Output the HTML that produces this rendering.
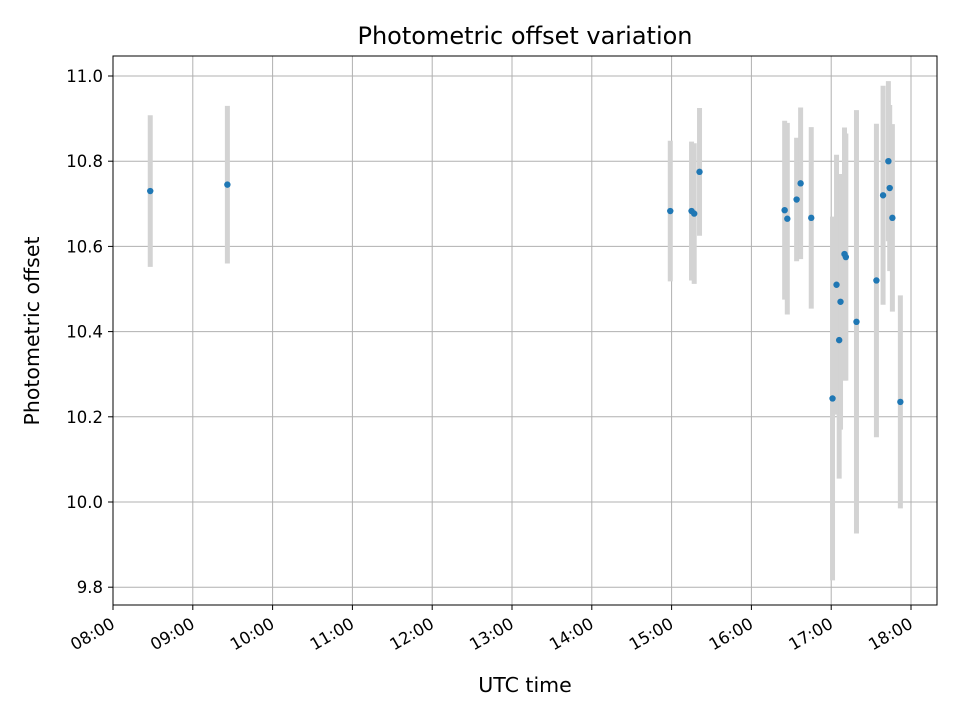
<!DOCTYPE html>
<html><head><meta charset="utf-8"><style>body{margin:0;background:#fff}svg{display:block;font-family:"DejaVu Sans","Liberation Sans",sans-serif}</style></head>
<body>
<svg id="chart" width="960" height="720" xmlns="http://www.w3.org/2000/svg"></svg>
<script>
const times=["08:28","09:26","14:59","15:15","15:17","15:21","16:25","16:27","16:34","16:37","16:45","17:01","17:04","17:06","17:07","17:10","17:11","17:19","17:34","17:39","17:43","17:44","17:46","17:52"];
const offsets=[10.73,10.745,10.683,10.683,10.677,10.775,10.685,10.665,10.71,10.748,10.667,10.243,10.51,10.38,10.47,10.582,10.575,10.423,10.52,10.72,10.80,10.737,10.667,10.235];
const errors=[0.178,0.185,0.165,0.163,0.165,0.15,0.21,0.225,0.145,0.178,0.213,0.427,0.305,0.325,0.3,0.297,0.29,0.497,0.368,0.257,0.188,0.195,0.22,0.25];
const xTicks=["08:00","09:00","10:00","11:00","12:00","13:00","14:00","15:00","16:00","17:00","18:00"];
const yTicks=[9.8,10.0,10.2,10.4,10.6,10.8,11.0];
const NS="http://www.w3.org/2000/svg",svg=document.getElementById('chart');
const L=113,R=937,T=56,B=605;
const toH=s=>{const p=s.split(':');return +p[0]+p[1]/60;};
const xs=h=>113+(h-8)*79.8;
const ys=v=>76+(11-v)*426;
function mk(tag,at,txt){const e=document.createElementNS(NS,tag);for(const k in at)e.setAttribute(k,at[k]);if(txt!=null)e.textContent=txt;svg.appendChild(e);return e;}
let g;
xTicks.forEach(t=>{const x=xs(toH(t));
g=mk('line',{x1:x,x2:x,y1:T,y2:B,stroke:'#b0b0b0','stroke-width':1});

g=mk('line',{x1:x,x2:x,y1:B,y2:B+5,stroke:'#000'});

g=mk('text',{x:x+3,y:B+22,'font-size':16.5,'text-anchor':'end',transform:`rotate(-30 ${x+3} ${B+22})`},t);
});
yTicks.forEach(v=>{const y=ys(v);
g=mk('line',{x1:L,x2:R,y1:y,y2:y,stroke:'#b0b0b0','stroke-width':1});

g=mk('line',{x1:L-5,x2:L,y1:y,y2:y,stroke:'#000'});

g=mk('text',{x:L-10,y:y+6,'font-size':16.5,'text-anchor':'end'},v.toFixed(1));
});
times.forEach((t,i)=>{const x=xs(toH(t));
g=mk('line',{x1:x,x2:x,y1:ys(offsets[i]+errors[i]),y2:ys(offsets[i]-errors[i]),stroke:'#d3d3d3','stroke-width':5});
});
times.forEach((t,i)=>{
g=mk('circle',{cx:xs(toH(t)),cy:ys(offsets[i]),r:3.2,fill:'#1f77b4'});
});
g=mk('rect',{x:L,y:T,width:R-L,height:B-T,fill:'none',stroke:'#000','stroke-width':1});

g=mk('text',{x:(L+R)/2,y:44,'font-size':24,'text-anchor':'middle'},'Photometric offset variation');

g=mk('text',{x:(L+R)/2,y:692,'font-size':20.5,'text-anchor':'middle'},'UTC time');

g=mk('text',{x:39,y:331,'font-size':20.5,'text-anchor':'middle',transform:'rotate(-90 39 331)'},'Photometric offset');

</script>
</body></html>
